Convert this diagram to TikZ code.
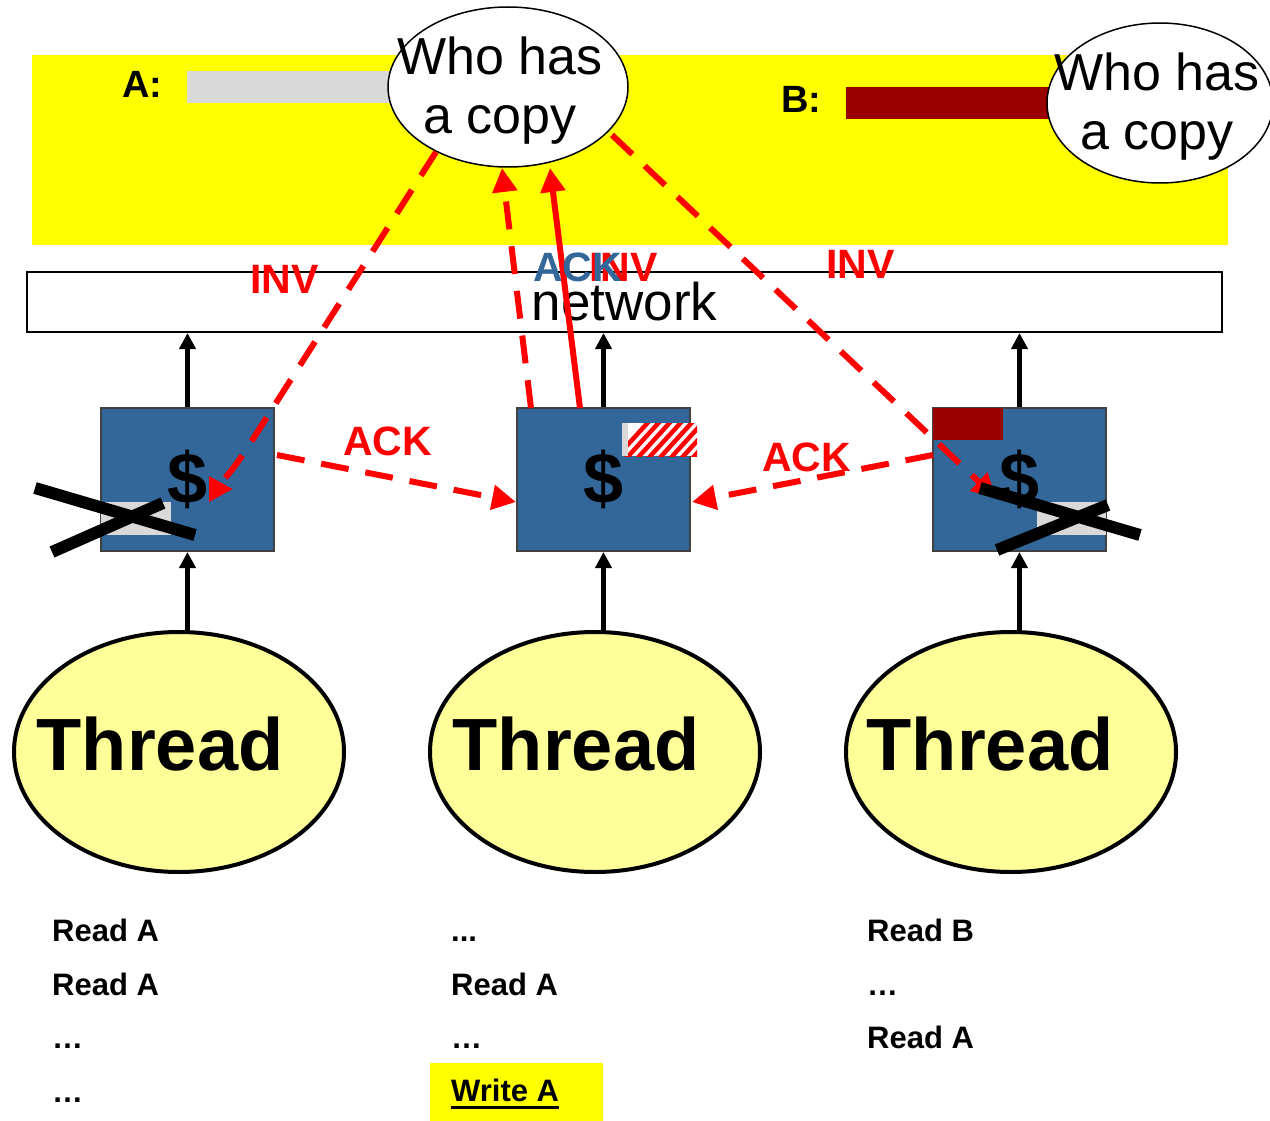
\documentclass[tikz,border=0pt]{standalone}
\usepackage{fontspec}
\setmainfont{Liberation Sans}
\usetikzlibrary{arrows.meta,shapes.geometric}
\definecolor{ybg}{HTML}{FFFF00}
\definecolor{grayblk}{HTML}{D9D9D9}
\definecolor{darkred}{HTML}{990000}
\definecolor{cacheblue}{HTML}{336699}
\definecolor{threadyellow}{HTML}{FFFF99}
\begin{document}
\begin{tikzpicture}[x=1pt,y=-1pt,
  lbl/.style={font=\fontsize{41}{41}\selectfont\bfseries, inner sep=0pt, anchor=base west},
  lst/.style={font=\fontsize{31}{31}\selectfont\bfseries, inner sep=0pt, anchor=base west},
  cache/.style={draw=black!75, line width=2pt, fill=cacheblue, minimum width=173pt, minimum height=143pt, inner sep=0pt, font=\fontsize{72}{72}\selectfont\bfseries},
  thread/.style={ellipse, draw, line width=4pt, fill=threadyellow, minimum width=330pt, minimum height=240pt, inner sep=0pt},
  threadtxt/.style={font=\fontsize{74}{74}\selectfont\bfseries, inner sep=0pt, anchor=base},
  whonode/.style={ellipse, draw, line width=1.5pt, fill=white, inner sep=0pt},
  whotxt/.style={inner sep=0pt, align=center, font=\fontsize{52}{59}\selectfont},
  uparrow/.style={-{Triangle[length=16pt,width=16pt]}, line width=4.5pt},
  reddash/.style={red, line width=6pt, dash pattern=on 28pt off 17pt, -{Triangle[length=24pt,width=24pt]}},
  redsolid/.style={red, line width=6pt, -{Triangle[length=24pt,width=24pt]}},
  xline/.style={line width=12pt, black}
]
\useasboundingbox (0,0) rectangle (1270,1121);

% memory band
\fill[ybg] (32,55) rectangle (1228,245);
\node[lbl, font=\fontsize{38}{38}\selectfont\bfseries] (la) at (122,98) {A:};
\fill[grayblk] (187,71) rectangle (400,103);
\node[lbl, font=\fontsize{38}{38}\selectfont\bfseries] (lb) at (781,113) {B:};
\fill[darkred] (846,87) rectangle (1060,119);
\node[whonode, minimum width=240pt, minimum height=160pt] (who1) at (508,87) {};
\node[whotxt] (who1t) at (500,91) {Who has\\a copy};
\node[whonode, minimum width=226pt, minimum height=160pt] (who2) at (1160,103) {};
\node[whotxt] (who2t) at (1157,107) {Who has\\a copy};

% network
\node[draw, line width=2pt, fill=white, minimum width=1195pt, minimum height=60pt, inner sep=0pt, font=\fontsize{53}{53}\selectfont] (net) at (624.5,302) {network};

% caches
\node[cache] (c1) at (187.5,479.5) {\$};
\node[cache] (c2) at (603.5,479.5) {\$};
\node[cache] (c3) at (1019.5,479.5) {\$};

\fill[grayblk] (101,502) rectangle (171,535);
\fill[grayblk] (1037,502) rectangle (1106,535);
\fill[darkred] (933,408) rectangle (1003,440);
\begin{scope}
  \clip (622,423) rectangle (697,456);
  \fill[white] (622,423) rectangle (697,456);
  \foreach \i in {0,...,11} \draw[red, line width=4.5pt] (612+\i*11,462) -- (652+\i*11,418);
  \fill[grayblk] (622,423) rectangle (628,456);
\end{scope}

% threads
\node[thread] (t1) at (179,752) {};
\node[thread] (t2) at (595,752) {};
\node[thread] (t3) at (1011,752) {};
\node[threadtxt] (tt1) at (160,770) {Thread};
\node[threadtxt] (tt2) at (576,770) {Thread};
\node[threadtxt] (tt3) at (990,770) {Thread};

% black arrows
\draw[uparrow] (c1.north) -- (c1.north |- net.south);
\draw[uparrow] (c2.north) -- (c2.north |- net.south);
\draw[uparrow] (c3.north) -- (c3.north |- net.south);
\draw[uparrow] (c1.south |- 0,634) -- (c1.south);
\draw[uparrow] (c2.south |- 0,634) -- (c2.south);
\draw[uparrow] (c3.south |- 0,634) -- (c3.south);

% red protocol arrows
\coordinate (p1s) at (436,152);
\coordinate (p1e) at (233,489);
\coordinate (p2s) at (531,408);
\coordinate (p2e) at (502,168);
\coordinate (p3s) at (580,408);
\coordinate (p3e) at (550,168);
\coordinate (p4s) at (612,135);
\coordinate (p4e) at (996,498);
\coordinate (p5s) at (277,455);
\coordinate (p5e) at (516,502);
\coordinate (p6s) at (933,455);
\coordinate (p6e) at (692,502);
\draw[reddash] (p1s) -- (246,450) .. controls (226,480) and (215,489) .. (p1e);
\draw[reddash] (p2s) -- (p2e);
\draw[redsolid] (p3s) -- (p3e);
\draw[reddash] (p4s) -- (p4e);
\draw[reddash] (p5s) -- (p5e);
\draw[reddash] (p6s) -- (p6e);

% crosses
\draw[xline] (35,488) -- (195,535);
\draw[xline] (52,552) -- (163,503);
\draw[xline] (980,488) -- (1140,535);
\draw[xline] (997,550) -- (1108,505);

% labels
\node[lbl, text=red] (inv1) at (250,293) {INV};
\node[lbl, text=red] (inv2) at (589,281) {INV};
\node[lbl, text=cacheblue] (ack0) at (533,281) {ACK};
\node[lbl, text=red] (inv3) at (826,278) {INV};
\node[lbl, text=red] (ack1) at (343,455) {ACK};
\node[lbl, text=red] (ack2) at (762,471) {ACK};

% thread programs
\node[lst] (a1) at (52,941) {Read A};
\node[lst] (a2) at (52,995) {Read A};
\node[lst] (a3) at (52,1048) {…};
\node[lst] (a4) at (52,1102) {…};

\fill[ybg] (430,1063) rectangle (603,1121);
\node[lst] (b1) at (451,941) {...};
\node[lst] (b2) at (451,995) {Read A};
\node[lst] (b3) at (451,1048) {…};
\node[lst] (b4) at (451,1101) {Write A};
\draw[line width=3pt] ([yshift=-6pt]b4.base west) -- ([yshift=-6pt]b4.base east);

\node[lst] (d1) at (867,941) {Read B};
\node[lst] (d2) at (867,995) {…};
\node[lst] (d3) at (867,1048) {Read A};
\end{tikzpicture}
\end{document}
